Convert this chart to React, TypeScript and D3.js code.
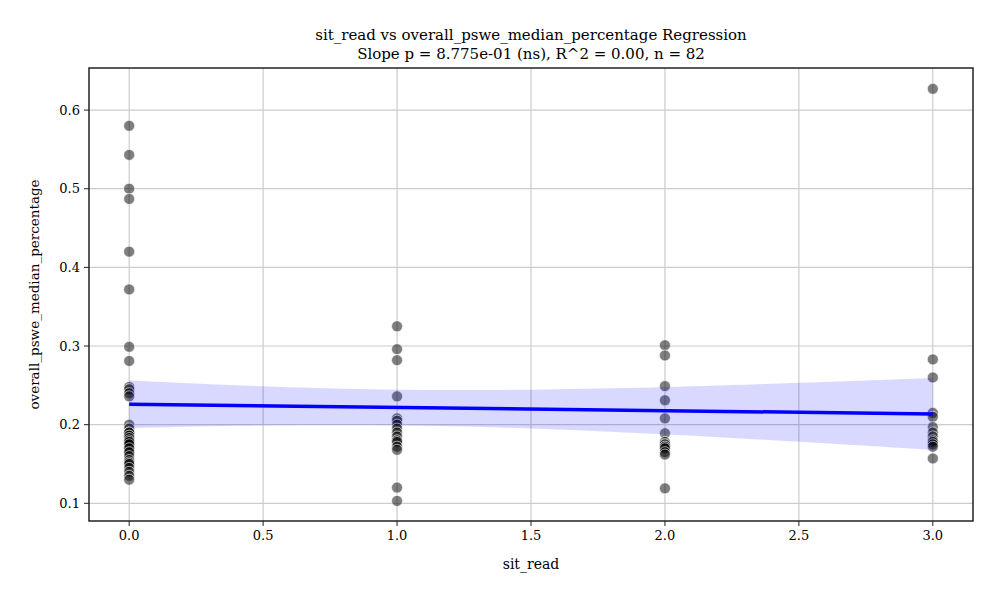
import React from "react";
import * as d3 from "d3";

const x0 = [0.58,0.543,0.50,0.487,0.42,0.372,0.299,0.281,0.248,0.245,0.240,0.236,0.2,0.195,0.19,0.186,0.183,0.18,0.177,0.173,0.17,0.165,0.19,0.186,0.183,0.18,0.178,0.175,0.17,0.165,0.16,0.155,0.152,0.15,0.145,0.14,0.135,0.13];
const x1 = [0.325,0.296,0.282,0.236,0.208,0.205,0.2,0.195,0.19,0.185,0.18,0.178,0.172,0.168,0.12,0.103];
const x2 = [0.301,0.288,0.249,0.231,0.208,0.189,0.178,0.175,0.172,0.17,0.165,0.162,0.119];
const x3 = [0.627,0.283,0.26,0.215,0.21,0.197,0.19,0.185,0.18,0.178,0.175,0.172,0.157];
const groups: [number, number[]][] = [[0, x0], [1, x1], [2, x2], [3, x3]];
const xTicks = [0, 0.5, 1, 1.5, 2, 2.5, 3];
const yTicks = [0.1, 0.2, 0.3, 0.4, 0.5, 0.6];

export default function App() {
  const W = 1000, H = 600;
  const L = 89, R = 973, T = 68, B = 521;
  const x = d3.scaleLinear().domain([-0.15, 3.15]).range([L, R]);
  const y = d3.scaleLinear().domain([0.0775, 0.6535]).range([B, T]);
  const pts = groups.flatMap(([gx, vs]) => vs.map(v => ({ x: gx, y: v })));
  const n = pts.length;
  const mx = d3.mean(pts, p => p.x)!, my = d3.mean(pts, p => p.y)!;
  const sxx = d3.sum(pts, p => (p.x - mx) ** 2);
  const sxy = d3.sum(pts, p => (p.x - mx) * (p.y - my));
  const b = sxy / sxx, a = my - b * mx;
  const se = Math.sqrt(d3.sum(pts, p => (p.y - a - b * p.x) ** 2) / (n - 2));
  const xs = d3.range(0, 3.0001, 0.05);
  const band = xs.map(xv => {
    const h = 1.99 * se * Math.sqrt(1 / n + (xv - mx) ** 2 / sxx);
    return { x: xv, lo: a + b * xv - h, hi: a + b * xv + h };
  });
  const area = d3.area<any>().x(d => x(d.x)).y0(d => y(d.lo)).y1(d => y(d.hi));
  const font = "DejaVu Serif, serif";
  return (
    <svg width={W} height={H} style={{ position: "absolute", left: 0, top: 0 }} fontFamily={font}>
      <rect width={W} height={H} fill="white" />
      {xTicks.map(t => <line key={"gx" + t} x1={x(t)} x2={x(t)} y1={T} y2={B} stroke="#cccccc" strokeWidth={1.2} />)}
      {yTicks.map(t => <line key={"gy" + t} x1={L} x2={R} y1={y(t)} y2={y(t)} stroke="#cccccc" strokeWidth={1.2} />)}
      {pts.map((p, i) => <circle key={i} cx={x(p.x)} cy={y(p.y)} r={5.5} fill="rgba(0,0,0,0.5)" stroke="white" strokeWidth={0.6} />)}
      <path d={area(band)!} fill="rgba(0,0,255,0.15)" />
      <line x1={x(0)} x2={x(3)} y1={y(a)} y2={y(a + 3 * b)} stroke="#0000ff" strokeWidth={3.5} />
      <rect x={L} y={T} width={R - L} height={B - T} fill="none" stroke="#222" strokeWidth={1.5} />
      {xTicks.map(t => (
        <g key={"tx" + t}>
          <line x1={x(t)} x2={x(t)} y1={B} y2={B + 5} stroke="#222" />
          <text x={x(t)} y={B + 19} textAnchor="middle" fontSize={13}>{t.toFixed(1)}</text>
        </g>
      ))}
      {yTicks.map(t => (
        <g key={"ty" + t}>
          <line x1={L - 5} x2={L} y1={y(t)} y2={y(t)} stroke="#222" />
          <text x={L - 9} y={y(t) + 4.5} textAnchor="end" fontSize={13}>{t.toFixed(1)}</text>
        </g>
      ))}
      <text x={(L + R) / 2} y={569} textAnchor="middle" fontSize={14}>sit_read</text>
      <text transform={`translate(39,${(T + B) / 2}) rotate(-90)`} textAnchor="middle" fontSize={13.5}>overall_pswe_median_percentage</text>
      <text x={(L + R) / 2} y={40} textAnchor="middle" fontSize={15}>sit_read vs overall_pswe_median_percentage Regression</text>
      <text x={(L + R) / 2} y={59} textAnchor="middle" fontSize={15}>Slope p = 8.775e-01 (ns), R^2 = 0.00, n = 82</text>
    </svg>
  );
}
